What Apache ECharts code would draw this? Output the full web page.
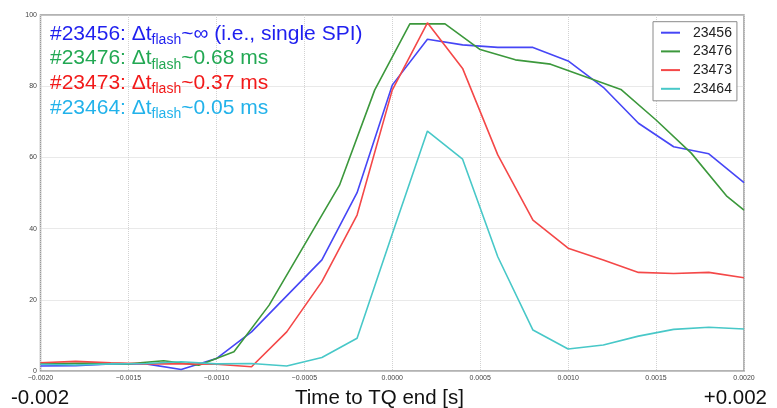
<!DOCTYPE html>
<html>
<head>
<meta charset="utf-8">
<script src="https://cdn.jsdelivr.net/npm/echarts@6/dist/echarts.min.js"></script>
<style>
html,body{margin:0;padding:0;background:#fff;}
#chart{width:777px;height:408px;}
</style>
</head>
<body>
<div id="chart"></div>
<script>
// ---- data ----
const seriesNames = ['23456', '23476', '23473', '23464'];

const blueT = [-0.0020,-0.0018,-0.0016,-0.0014,-0.0012,-0.0010,-0.0008,-0.0004,-0.0002,0.0000,0.0002,0.0004,0.0006,0.0008,0.0010,0.0012,0.0014,0.0016,0.0018,0.0020];
const blueV = [1.4,1.5,2.0,2.0,0.4,3.5,11.0,31.2,50.1,80.3,93.2,91.6,90.9,90.9,87.1,79.7,69.6,63.0,61.0,52.9];

const greenT = [-0.0020,-0.0017,-0.0015,-0.0013,-0.0011,-0.0010,-0.0009,-0.0007,-0.0003,-0.0001,0.0001,0.0003,0.0005,0.0007,0.0009,0.0013,0.0015,0.0017,0.0019,0.0020];
const greenV = [2.0,2.2,2.0,2.9,1.6,3.5,5.4,18.5,52.2,78.9,97.5,97.5,90.3,87.4,86.2,79.1,70.5,61.2,49.2,45.2];

const redT = [-0.0020,-0.0018,-0.0016,-0.0014,-0.0012,-0.0010,-0.0008,-0.0006,-0.0004,-0.0002,0.0000,0.0002,0.0004,0.0006,0.0008,0.0010,0.0012,0.0014,0.0016,0.0018,0.0020];
const redV = [2.3,2.7,2.3,2.0,2.0,1.9,1.2,11.0,25.1,43.8,78.9,97.8,85.0,60.7,42.4,34.5,31.2,27.7,27.4,27.7,26.2];

const cyanT = [-0.0020,-0.0018,-0.0016,-0.0014,-0.0012,-0.0010,-0.0008,-0.0006,-0.0004,-0.0002,0.0000,0.0002,0.0004,0.0006,0.0008,0.0010,0.0012,0.0014,0.0016,0.0018,0.0020];
const cyanV = [1.9,1.7,2.0,2.1,2.6,2.0,2.1,1.4,3.8,9.2,38.5,67.4,59.5,32.1,11.5,6.2,7.3,9.8,11.7,12.3,11.8];

const annotationShots = ['#23456', '#23476', '#23473', '#23464'];
const annotationTails = ['~\u221E (i.e., single SPI)', '~0.68 ms', '~0.37 ms', '~0.05 ms'];

const xMin = -0.002, xMax = 0.002, xStep = 0.0005;
const yMin = 0, yMax = 100, yStep = 20;
const xTitle = 'Time to TQ end [s]';
const leftBig = '-0.002';
const rightBig = '+0.002';

// ---- styling ----
const lineColors = ['#4646f6', '#3c983c', '#f44848', '#48c8c8'];
const textColors = ['#1f1fef', '#22a853', '#f21a1a', '#22b2ea'];

function pairs(t, v) { return t.map((x, i) => [x, v[i]]); }
const allData = [pairs(blueT, blueV), pairs(greenT, greenV), pairs(redT, redV), pairs(cyanT, cyanV)];

const chart = echarts.init(document.getElementById('chart'), null, {renderer: 'canvas'});

const font = 'Liberation Sans, Arial, sans-serif';
const tops = [23.5, 48.2, 72.9, 97.5];
const annotationGraphics = annotationShots.map((s, i) => ({
  type: 'text',
  left: 50,
  top: tops[i],
  z: 100,
  style: {
    text: '{m|' + s + ': \u0394t}{s|flash}{m|' + annotationTails[i] + '}',
    rich: {
      m: {fontSize: 21, fontFamily: font, fill: textColors[i], color: textColors[i], lineHeight: 26},
      s: {fontSize: 14, fontFamily: font, fill: textColors[i], color: textColors[i], lineHeight: 10, verticalAlign: 'bottom'}
    }
  }
}));

const option = {
  animation: false,
  backgroundColor: '#ffffff',
  grid: {
    left: 40.5, right: 33, top: 15, bottom: 37,
    show: true, borderColor: '#9a9a9a', borderWidth: 1.5,
    containLabel: false, outerBoundsMode: 'none'
  },
  xAxis: {
    type: 'value', min: xMin, max: xMax, interval: xStep,
    axisLine: {show: false}, axisTick: {show: false},
    splitLine: {show: true, lineStyle: {color: '#d2d2d2', type: 'dotted', width: 1}},
    axisLabel: {
      fontSize: 7, color: '#444', margin: 4, fontFamily: font,
      formatter: v => (v < 0 ? '\u2212' : '') + Math.abs(v).toFixed(4)
    }
  },
  yAxis: {
    type: 'value', min: yMin, max: yMax, interval: yStep,
    axisLine: {show: false}, axisTick: {show: false},
    splitLine: {show: true, lineStyle: {color: '#d2d2d2', type: 'dotted', width: 1}},
    axisLabel: {fontSize: 7, color: '#444', margin: 3.5, fontFamily: font}
  },
  legend: {
    orient: 'vertical', left: 653, top: 21.7,
    data: seriesNames,
    icon: 'rect', itemWidth: 19, itemHeight: 2, itemGap: 4.7,
    padding: [4, 5, 5, 8],
    backgroundColor: '#ffffff', borderColor: '#8a8a8a', borderWidth: 1,
    textStyle: {fontSize: 14, lineHeight: 14, color: '#222', fontFamily: font, padding: [0, 0, 0, 8]}
  },
  series: seriesNames.map((n, i) => ({
    name: n, type: 'line', data: allData[i],
    showSymbol: false, symbol: 'none',
    color: lineColors[i],
    lineStyle: {color: lineColors[i], width: 1.6},
    emphasis: {disabled: true}
  })),
  graphic: annotationGraphics.concat([
    {type: 'text', left: 11, top: 388, style: {text: leftBig, fontSize: 20.5, fontFamily: font, fill: '#111'}},
    {type: 'text', left: 295, top: 388, style: {text: xTitle, fontSize: 20.5, fontFamily: font, fill: '#111'}},
    {type: 'text', right: 10, top: 388, style: {text: rightBig, fontSize: 20.5, fontFamily: font, fill: '#111'}}
  ])
};
chart.setOption(option);
</script>
</body>
</html>
